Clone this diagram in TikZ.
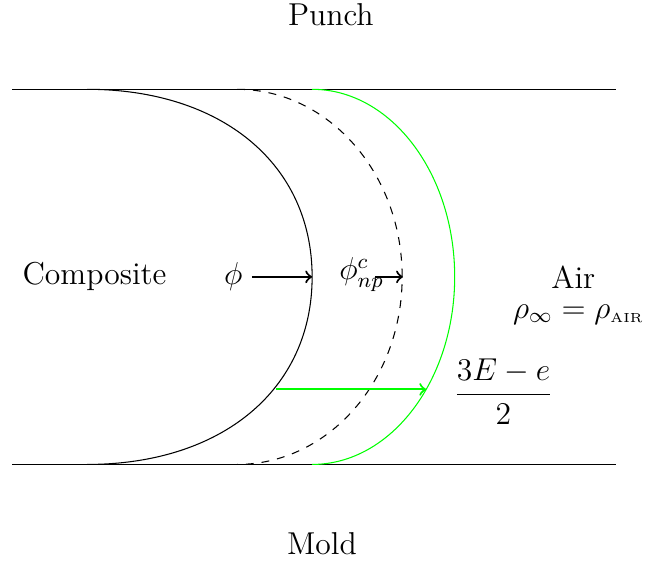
\documentclass[tikz,border=0pt]{standalone}
\usepackage{amsmath}
\usetikzlibrary{positioning}

\tikzset{
    label/.style={font=\large},
    front/.style={thick, ->},
}

\begin{document}
\begin{tikzpicture}
    \def\len{8.05}
    \def\half{2.5}

    \useasboundingbox (-0.16,-3.8) rectangle (8.45,3.69);

    % Punch and mold walls
    \draw (0,\half) -- (\len,\half);
    \draw (0,-\half) -- (\len,-\half);

    \node[label] (punch) at (4.25,3.5) {Punch};
    \node[label] (mold) at (4.13,-3.55) {Mold};

    % Flow fronts
    \draw (1,\half) .. controls (2.8,\half) and (4,1.5) .. (4,0)
                    .. controls (4,-1.5) and (2.8,-\half) .. (1,-\half);
    \draw[dashed] (3,\half) arc (90:-90:2.2 and \half);
    \draw[green] (4,\half) arc (90:-90:1.9 and \half);

    \coordinate (front1) at (4,0);
    \coordinate (front2) at (5.21,0);
    \coordinate (low1) at (3.52,-1.5);
    \coordinate (low3) at (5.52,-1.5);
    \coordinate (np) at (4.84,0);

    \node[label] (comp) at (1.1,0) {Composite};
    \node[label] (phi) at (2.95,0) {$\phi$};
    \node[label] (phinp) at (4.66,0.03) {$\phi_{np}^{c}$};
    \node[label] (air) at (7.48,0) {Air};
    \node[label] (rho) at (7.55,-0.5) {$\rho_\infty = \rho_{\text{\tiny AIR}}$};
    \node[label] (gap) at (6.55,-1.53) {$\dfrac{3E-e}{2}$};

    \draw[front] (phi) -- (front1);
    \draw[front] (np) -- (front2);
    \draw[front, green] (low1) -- (low3);
\end{tikzpicture}
\end{document}
